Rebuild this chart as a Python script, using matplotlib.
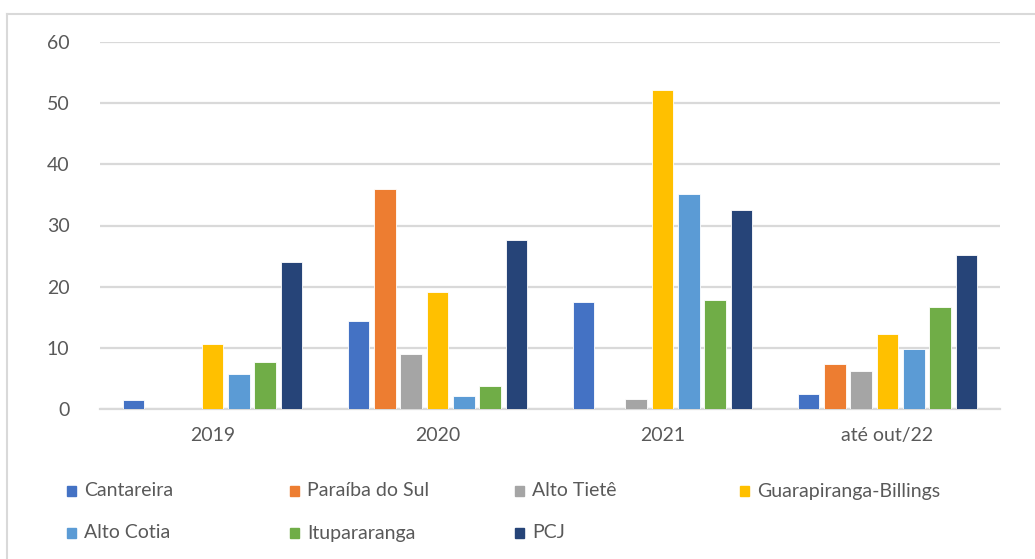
import numpy as np
import matplotlib
matplotlib.use('Agg')
import matplotlib.pyplot as plt
from matplotlib.patches import Rectangle
from matplotlib.lines import Line2D

plt.rcParams['font.family'] = ['Lato', 'DejaVu Sans']

# Periods and reservoir systems
periods = ['2019', '2020', '2021', 'até out/22']
systems = ['Cantareira', 'Paraíba do Sul', 'Alto Tietê', 'Guarapiranga-Billings',
           'Alto Cotia', 'Itupararanga', 'PCJ']
colors = ['#4472C4', '#ED7D31', '#A5A5A5', '#FFC000', '#5B9BD5', '#70AD47', '#264478']

# one list per system, values for each period
cantareira = [1.5, 14.4, 17.5, 2.4]
paraiba = [0, 35.9, 0, 7.3]
alto_tiete = [0, 9.0, 1.6, 6.2]
guarapiranga = [10.6, 19.2, 52.1, 12.3]
alto_cotia = [5.8, 2.1, 35.1, 9.8]
itupararanga = [7.7, 3.8, 17.9, 16.7]
pcj = [24.0, 27.7, 32.6, 25.2]
series = [cantareira, paraiba, alto_tiete, guarapiranga, alto_cotia, itupararanga, pcj]

txt_color = '#595959'
grid_color = '#d9d9d9'
fs = 14

W, H = 1035, 559
fig = plt.figure(figsize=(W / 100, H / 100), dpi=100)
ax = fig.add_axes([100 / W, 1 - 409 / H, 900 / W, 367 / H])

x = np.arange(len(periods))
step = 0.117
bw = 0.095
for i, (vals, c) in enumerate(zip(series, colors)):
    ax.bar(x + (i - 3) * step, vals, width=bw, color=c,
           edgecolor='white', linewidth=0.6, zorder=3)

ax.set_xlim(-0.5, len(periods) - 0.5)
ax.set_ylim(0, 60)
ax.set_yticks(np.arange(0, 61, 10))
ax.set_xticks(x)
ax.set_xticklabels(periods)
ax.yaxis.grid(True, color=grid_color, linewidth=1.6, zorder=0)
ax.tick_params(length=0, labelsize=fs, colors=txt_color)
ax.tick_params(axis='y', pad=22)
ax.tick_params(axis='x', pad=13)
for s in ['top', 'right', 'left']:
    ax.spines[s].set_visible(False)
ax.spines['bottom'].set_color(grid_color)
ax.spines['bottom'].set_linewidth(1.6)

# legend laid out by hand in 4 columns
col_x = [67, 290, 515, 740]
row_y = [491, 533]
for i, (name, c) in enumerate(zip(systems, colors)):
    cx = col_x[i % 4]
    cy = row_y[i // 4]
    fig.patches.append(Rectangle((cx / W, 1 - (cy + 5) / H), 9 / W, 10 / H,
                                 transform=fig.transFigure, color=c))
    fig.text((cx + 17) / W, 1 - cy / H, name, fontsize=fs, color=txt_color,
             va='center', ha='left')

# chart area border (top and left)
fig.add_artist(Line2D([7 / W, 7 / W], [0, 1 - 14 / H], transform=fig.transFigure,
                      color=grid_color, linewidth=1.5))
fig.add_artist(Line2D([7 / W, 1], [1 - 14 / H, 1 - 14 / H], transform=fig.transFigure,
                      color=grid_color, linewidth=1.5))

fig.savefig('out.png', dpi=100)
